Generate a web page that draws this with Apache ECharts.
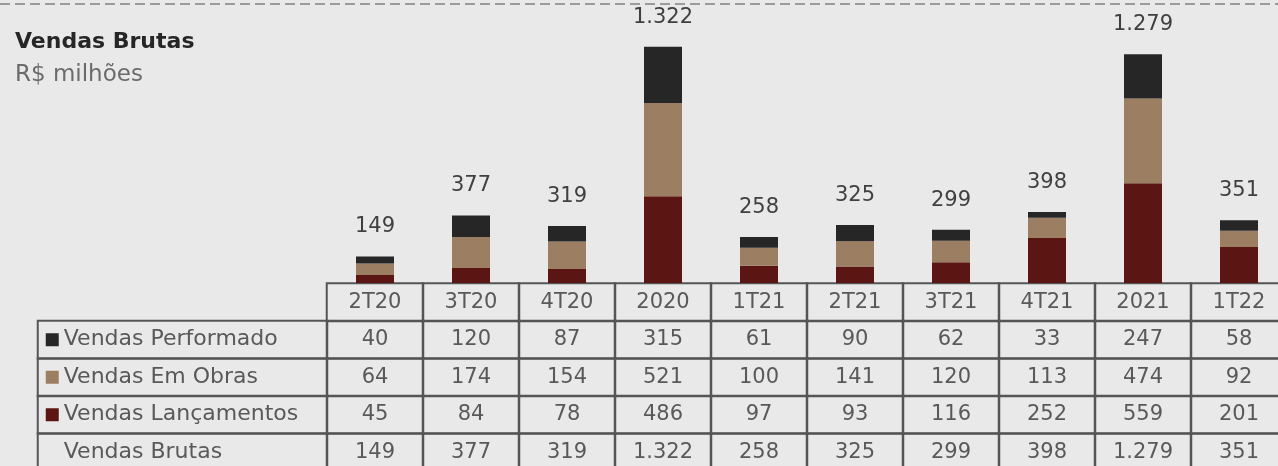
<!DOCTYPE html>
<html>
<head>
<meta charset="utf-8">
<script src="https://cdn.jsdelivr.net/npm/echarts@6/dist/echarts.min.js"></script>
<style>
html,body{margin:0;padding:0;background:#e9e9e9;}
#c{width:1278px;height:466px;}
</style>
</head>
<body>
<div id="c"></div>
<script>
const categories = ['2T20','3T20','4T20','2020','1T21','2T21','3T21','4T21','2021','1T22'];
const performado = [40,120,87,315,61,90,62,33,247,58];
const emObras = [64,174,154,521,100,141,120,113,474,92];
const lancamentos = [45,84,78,486,97,93,116,252,559,201];
const brutas = [149,377,319,1322,258,325,299,398,1279,351];
const rowNames = ['Vendas Performado','Vendas Em Obras','Vendas Lançamentos','Vendas Brutas'];
const titleText = 'Vendas Brutas';
const subtitleText = 'R$ milhões';

const colors = ['#262626','#9c7f63','#5b1613'];
const FONT = '"DejaVu Sans", sans-serif';
const TXT = '#595959';

function fmt(n){
  return String(n).replace(/\B(?=(\d{3})+(?!\d))/g,'.');
}

const rowValues = [performado, emObras, lancamentos, brutas];
const tableData = [];
categories.forEach((c,i)=>{
  tableData.push([i,0,0]);
  rowValues.forEach((arr,r)=>tableData.push([i,r+1,arr[i]]));
});
const labelData = rowNames.map((n,r)=>[0,r,r]);

const chart = echarts.init(document.getElementById('c'), null, {renderer:'canvas'});
chart.setOption({
  animation:false,
  backgroundColor:'#e9e9e9',
  graphic:[
    {type:'line', shape:{x1:0,y1:4,x2:1278,y2:4}, style:{stroke:'#9b9b9b', lineWidth:2, lineDash:[10,5]}},
    {type:'text', x:15, y:42, style:{text:titleText, fontSize:22, fontWeight:'bold', fontFamily:FONT, fill:'#262626', verticalAlign:'middle'}},
    {type:'text', x:15, y:75, style:{text:subtitleText, fontSize:23, fontFamily:FONT, fill:'#6b6b6b', verticalAlign:'middle'}}
  ],
  grid:[
    {left:327, top:15, width:960, height:268, outerBoundsMode:'none'},
    {left:327, top:283.5, width:960, height:187.5, outerBoundsMode:'none'},
    {left:38, top:321, width:289, height:150, outerBoundsMode:'none'}
  ],
  xAxis:[
    {gridIndex:0, type:'category', data:categories, show:false},
    {gridIndex:1, type:'category', data:categories, show:false},
    {gridIndex:2, type:'category', data:['l'], show:false}
  ],
  yAxis:[
    {gridIndex:0, type:'value', min:0, max:1500, show:false},
    {gridIndex:1, type:'category', data:['h','r0','r1','r2','r3'], inverse:true, show:false},
    {gridIndex:2, type:'category', data:rowNames, inverse:true, show:false}
  ],
  series:[
    {name:rowNames[2], type:'bar', stack:'v', xAxisIndex:0, yAxisIndex:0, data:lancamentos, barWidth:38,
     itemStyle:{color:colors[2]}, emphasis:{disabled:true}},
    {name:rowNames[1], type:'bar', stack:'v', xAxisIndex:0, yAxisIndex:0, data:emObras, barWidth:38,
     itemStyle:{color:colors[1]}, emphasis:{disabled:true}},
    {name:rowNames[0], type:'bar', stack:'v', xAxisIndex:0, yAxisIndex:0, data:performado, barWidth:38,
     itemStyle:{color:colors[0]}, emphasis:{disabled:true},
     label:{show:true, position:'top', distance:19, fontSize:21, fontFamily:FONT, color:'#404040',
       formatter:p=>fmt(brutas[p.dataIndex])}},
    {type:'heatmap', xAxisIndex:1, yAxisIndex:1, data:tableData,
     itemStyle:{color:'rgba(0,0,0,0)', borderColor:'#555555', borderWidth:2},
     emphasis:{disabled:true},
     label:{show:true, fontSize:21, fontFamily:FONT, color:TXT,
       formatter:p=>{const [i,r]=p.data; return r===0?categories[i]:fmt(rowValues[r-1][i]);}}},
    {type:'heatmap', xAxisIndex:2, yAxisIndex:2, data:labelData,
     itemStyle:{color:'rgba(0,0,0,0)', borderColor:'#555555', borderWidth:2},
     emphasis:{disabled:true},
     label:{show:true, position:'insideLeft', distance:9,
       formatter:p=>'{s'+p.data[1]+'|}{t|'+rowNames[p.data[1]]+'}',
       rich:{
         s0:{width:13,height:13,backgroundColor:colors[0]},
         s1:{width:13,height:13,backgroundColor:colors[1]},
         s2:{width:13,height:13,backgroundColor:colors[2]},
         s3:{width:13,height:13,backgroundColor:'rgba(0,0,0,0)'},
         t:{fontSize:22, fontFamily:FONT, color:TXT, padding:[0,0,0,5]}
       }}}
  ]
});
</script>
</body>
</html>
